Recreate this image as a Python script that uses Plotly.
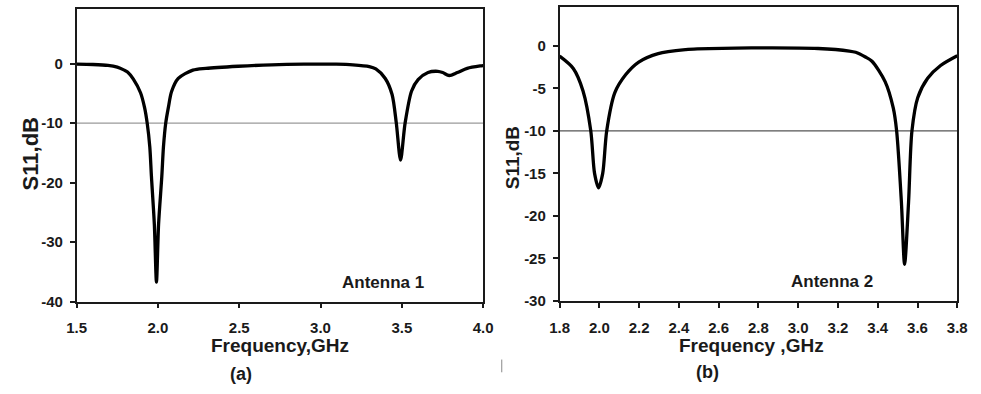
import plotly.graph_objects as go

# Antenna 1 (panel a)
freq_a = [1.50, 1.60, 1.693, 1.75, 1.793, 1.813, 1.849, 1.893, 1.918, 1.934, 1.950, 1.960,
          1.978, 1.991, 2.004, 2.024, 2.034, 2.048, 2.064, 2.084, 2.125, 2.215, 2.295, 2.494,
          2.70, 2.898, 3.096, 3.199, 3.30, 3.34, 3.398, 3.44, 3.466, 3.492, 3.52, 3.56, 3.60,
          3.661, 3.721, 3.751, 3.791, 3.842, 3.902, 3.982, 4.0]
s11_a = [-0.1, -0.15, -0.3, -0.6, -1.1, -1.4, -2.6, -4.9, -7.4, -10.0, -14.0, -18.9,
         -27.0, -36.7, -27.0, -18.9, -14.0, -10.0, -7.4, -4.7, -2.5, -1.1, -0.8, -0.45,
         -0.2, -0.1, -0.1, -0.2, -0.5, -0.9, -2.5, -5.2, -10.0, -16.2, -10.0, -4.6, -2.7,
         -1.5, -1.3, -1.5, -2.0, -1.5, -0.8, -0.4, -0.35]

# Antenna 2 (panel b)
freq_b = [1.80, 1.869, 1.918, 1.957, 1.976, 1.996, 2.017, 2.037, 2.078, 2.132, 2.198, 2.296,
          2.435, 2.493, 2.764, 3.10, 3.257, 3.289, 3.338, 3.371, 3.437, 3.478, 3.495, 3.519,
          3.535, 3.555, 3.572, 3.601, 3.651, 3.716, 3.80]
s11_b = [-1.2, -2.65, -5.3, -10.0, -15.0, -16.7, -15.0, -10.0, -5.5, -3.4, -1.9, -0.9,
         -0.43, -0.35, -0.23, -0.3, -0.6, -0.75, -1.3, -1.8, -4.2, -7.3, -10.0, -18.4,
         -25.7, -18.4, -10.0, -6.1, -3.8, -2.3, -1.15]

xticks_a = [1.5, 2.0, 2.5, 3.0, 3.5, 4.0]
xticklabels_a = ["1.5", "2.0", "2.5", "3.0", "3.5", "4.0"]
yticks_a = [-40, -30, -20, -10, 0]
yticklabels_a = ["-40", "-30", "-20", "-10", "0"]
xticks_b = [1.8, 2.0, 2.2, 2.4, 2.6, 2.8, 3.0, 3.2, 3.4, 3.6, 3.8]
xticklabels_b = ["1.8", "2.0", "2.2", "2.4", "2.6", "2.8", "3.0", "3.2", "3.4", "3.6", "3.8"]
yticks_b = [-30, -25, -20, -15, -10, -5, 0]
yticklabels_b = ["-30", "-25", "-20", "-15", "-10", "-5", "0"]

FONT = "Liberation Sans, Arial, sans-serif"
W, H = 981, 394
INK = "#1a1a1a"

def bold(labels):
    return ["<b>%s</b>" % t for t in labels]

fig = go.Figure()
fig.add_trace(go.Scatter(x=freq_a, y=s11_a, mode="lines", xaxis="x", yaxis="y",
                         line=dict(color="black", width=3.3, shape="spline", smoothing=0.8),
                         showlegend=False, hoverinfo="skip"))
fig.add_trace(go.Scatter(x=freq_b, y=s11_b, mode="lines", xaxis="x2", yaxis="y2",
                         line=dict(color="black", width=3.3, shape="spline", smoothing=0.8),
                         showlegend=False, hoverinfo="skip"))

tickfont = dict(family=FONT, size=15, color=INK)
common = dict(showline=True, linecolor=INK, linewidth=1.5, mirror=True,
              ticks="outside", ticklen=5, tickwidth=1.5, tickcolor=INK,
              showgrid=False, zeroline=False, tickfont=tickfont)

fig.update_layout(
    width=W, height=H,
    margin=dict(l=0, r=0, t=0, b=0),
    paper_bgcolor="white", plot_bgcolor="white",
    xaxis=dict(domain=[68 / W, 483 / W], range=[1.5, 4.0], anchor="y",
               tickvals=xticks_a, ticktext=bold(xticklabels_a), ticklabelstandoff=7, **common),
    yaxis=dict(domain=[(H - 308) / H, (H - 9) / H], range=[-40, 9.2], anchor="x",
               tickvals=yticks_a, ticktext=bold(yticklabels_a), ticklabelstandoff=4, **common),
    xaxis2=dict(domain=[561 / W, 967 / W], range=[1.8, 3.8], anchor="y2",
                tickvals=xticks_b, ticktext=bold(xticklabels_b), ticklabelstandoff=7, **common),
    yaxis2=dict(domain=[(H - 307) / H, (H - 7) / H], range=[-30, 4.6], anchor="x2",
                tickvals=yticks_b, ticktext=bold(yticklabels_b), ticklabelstandoff=4, **common),
)

# -10 dB reference lines
fig.add_shape(type="line", xref="x domain", yref="y", x0=0, x1=1, y0=-10, y1=-10,
              line=dict(color="#9a9a9a", width=1.3), layer="below")
fig.add_shape(type="line", xref="x2 domain", yref="y2", x0=0, x1=1, y0=-10, y1=-10,
              line=dict(color="#555", width=1.2), layer="below")

# stray mark
fig.add_shape(type="line", xref="paper", yref="paper", x0=502 / W, x1=502 / W,
              y0=(H - 380) / H, y1=(H - 367) / H, line=dict(color="#888", width=1))

def ann(text, x, y, size, rot=0):
    fig.add_annotation(text="<b>%s</b>" % text, x=x / W, y=(H - y) / H,
                       xref="paper", yref="paper", borderpad=0,
                       showarrow=False, textangle=rot, xanchor="center", yanchor="middle",
                       font=dict(family=FONT, size=size, color=INK))

ann("Frequency,GHz", 276, 353, 19)
ann("Frequency ,GHz", 757, 353, 19)
ann("S11,dB", 21, 157, 22, -90)
ann("S11,dB", 513, 161, 19, -90)
ann("Antenna 1", 381, 288, 17)
ann("Antenna 2", 839, 287, 17)
ann("(a)", 236, 382, 18)
ann("(b)", 712, 380, 18)

fig.write_html("out.html")
